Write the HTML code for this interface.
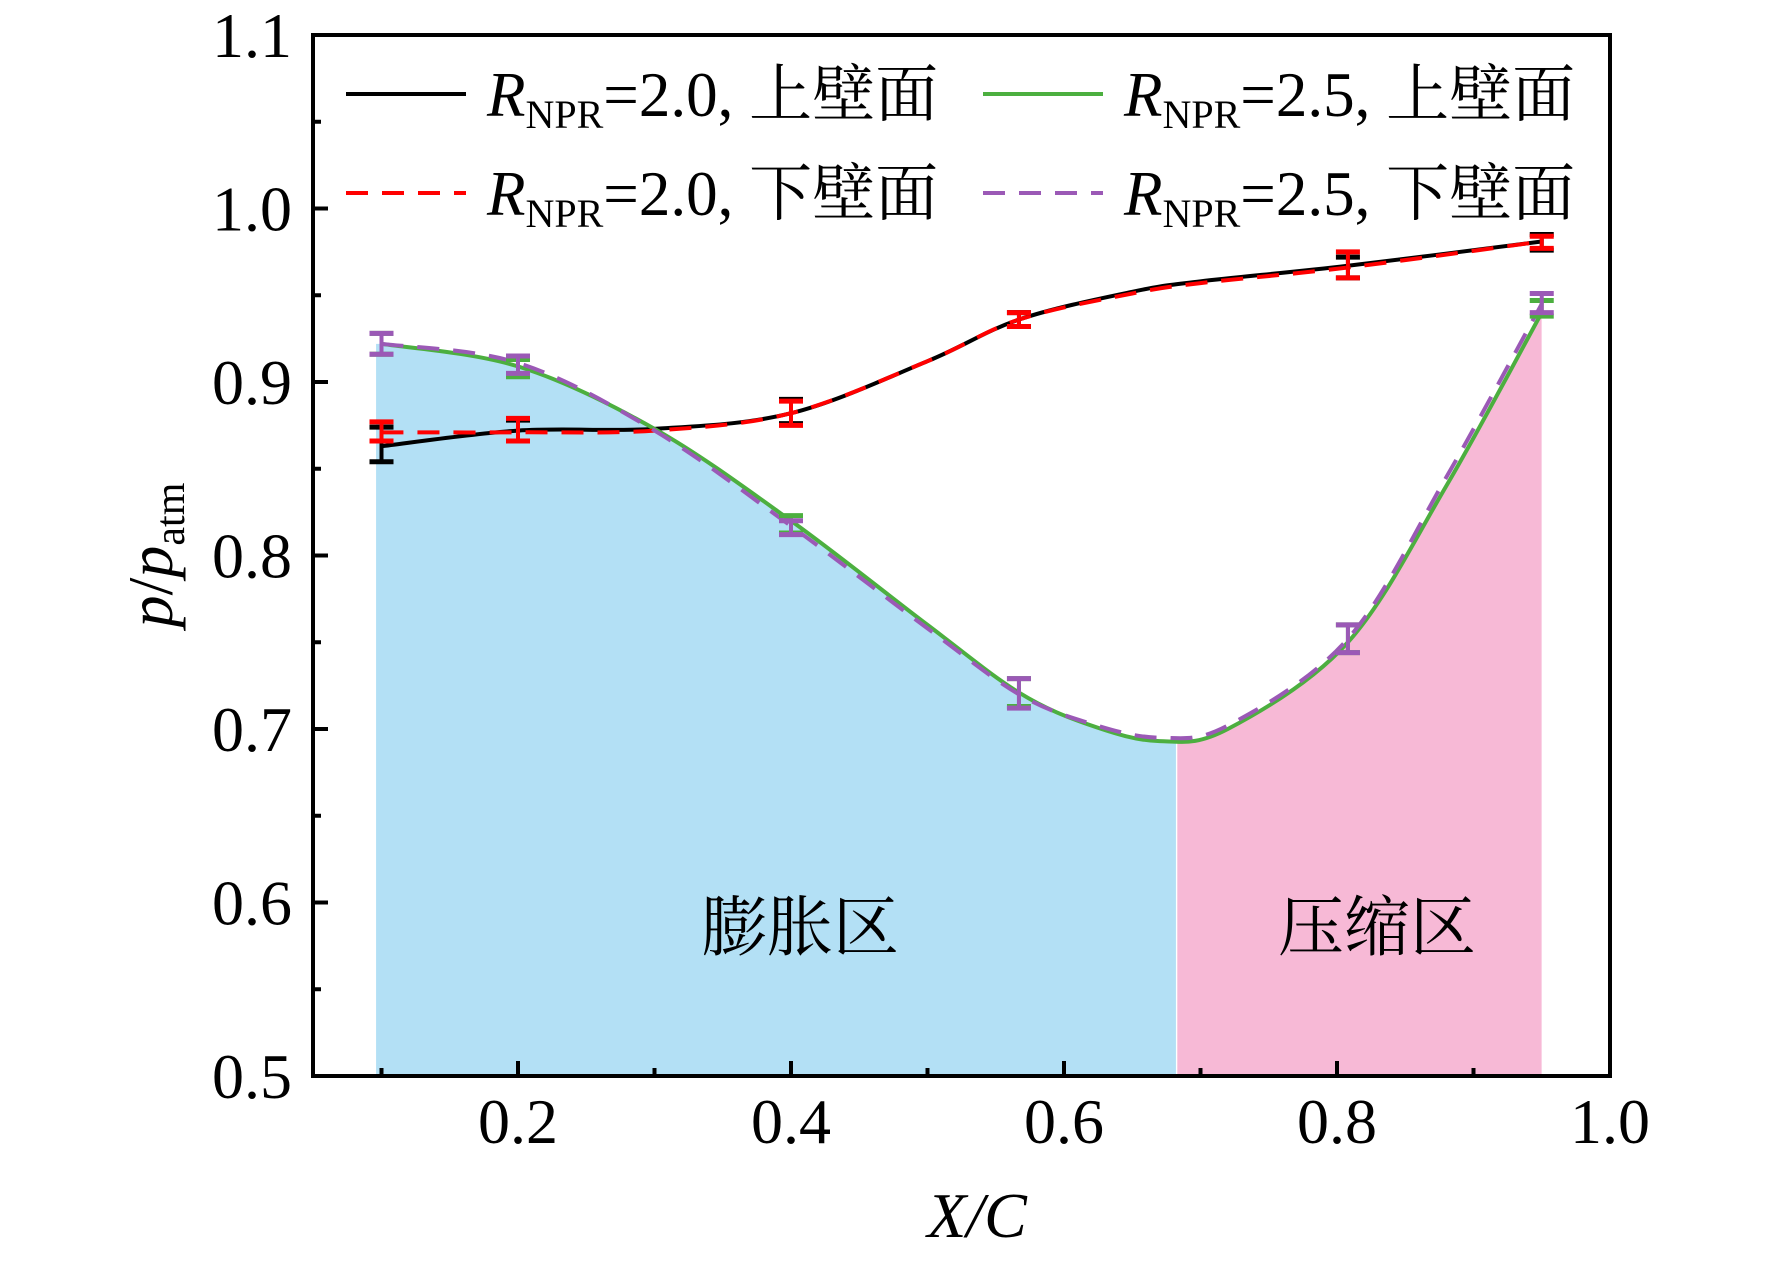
<!DOCTYPE html>
<html><head><meta charset="utf-8"><style>
html,body{margin:0;padding:0;background:#fff;}
svg{display:block;}
text{font-family:"Liberation Serif","Noto Serif CJK SC",serif;fill:#000;}
</style></head><body>
<svg id="s" width="1772" height="1269" viewBox="0 0 1772 1269" xmlns="http://www.w3.org/2000/svg">
<g id="fills"></g>
<g id="curves"></g>
<g id="axes"></g>
<text x="800" y="950" font-size="66" text-anchor="middle" font-family="Noto Serif CJK SC, serif">膨胀区</text>
<text x="1377" y="950" font-size="66" text-anchor="middle" font-family="Noto Serif CJK SC, serif">压缩区</text>
<!-- legend -->
<line x1="346" y1="94" x2="466" y2="94" stroke="#000" stroke-width="4"/>
<line x1="346" y1="193" x2="466" y2="193" stroke="#f00" stroke-width="4" stroke-dasharray="22,14"/>
<line x1="983" y1="94" x2="1103" y2="94" stroke="#4caf3f" stroke-width="4"/>
<line x1="983" y1="193" x2="1103" y2="193" stroke="#9b59b6" stroke-width="4" stroke-dasharray="22,14"/>
<g font-size="63">
<text x="487" y="116"><tspan font-style="italic">R</tspan><tspan font-size="40" dy="12">NPR</tspan><tspan dy="-12">=2.0, </tspan><tspan font-family="Noto Serif CJK SC, serif">上壁面</tspan></text>
<text x="487" y="215"><tspan font-style="italic">R</tspan><tspan font-size="40" dy="12">NPR</tspan><tspan dy="-12">=2.0, </tspan><tspan font-family="Noto Serif CJK SC, serif">下壁面</tspan></text>
<text x="1124" y="116"><tspan font-style="italic">R</tspan><tspan font-size="40" dy="12">NPR</tspan><tspan dy="-12">=2.5, </tspan><tspan font-family="Noto Serif CJK SC, serif">上壁面</tspan></text>
<text x="1124" y="215"><tspan font-style="italic">R</tspan><tspan font-size="40" dy="12">NPR</tspan><tspan dy="-12">=2.5, </tspan><tspan font-family="Noto Serif CJK SC, serif">下壁面</tspan></text>
</g>
<text x="977" y="1237" font-size="64" text-anchor="middle" font-style="italic">X/C</text>
<text transform="translate(172,555) rotate(-90)" font-size="64" text-anchor="middle"><tspan font-style="italic">p</tspan>/<tspan font-style="italic">p</tspan><tspan font-size="42" dy="12">atm</tspan></text>
</svg>
<script>
var X=function(x){return 245+1365*x;},Y=function(p){return 35+(1.1-p)*1735;};
function path(pts){pts=pts.map(function(a){return [X(a[0]),Y(a[1])];});
var d="M"+pts[0][0]+","+pts[0][1];
for(var i=0;i<pts.length-1;i++){var p0=pts[i-1]||pts[i],p1=pts[i],p2=pts[i+1],p3=pts[i+2]||p2;
d+=" C"+(p1[0]+(p2[0]-p0[0])/6)+","+(p1[1]+(p2[1]-p0[1])/6)+" "+(p2[0]-(p3[0]-p1[0])/6)+","+(p2[1]-(p3[1]-p1[1])/6)+" "+p2[0]+","+p2[1];}
return d;}
var black=[[0.1,0.863],[0.2,0.872],[0.3,0.873],[0.4,0.882],[0.5,0.912],[0.567,0.936],[0.65,0.952],[0.7,0.958],[0.808,0.967],[0.95,0.981]];
var red=[[0.1,0.871],[0.2,0.871],[0.3,0.872],[0.4,0.882],[0.5,0.912],[0.567,0.936],[0.65,0.951],[0.7,0.957],[0.808,0.966],[0.95,0.981]];
var green=[[0.1,0.922],[0.2,0.909],[0.3,0.873],[0.4,0.82],[0.5,0.76],[0.567,0.721],[0.62,0.702],[0.67,0.693],[0.72,0.7],[0.808,0.75],[0.88,0.84],[0.95,0.94]];
var purple=[[0.1,0.922],[0.2,0.911],[0.3,0.872],[0.4,0.817],[0.5,0.758],[0.567,0.72],[0.62,0.703],[0.67,0.695],[0.72,0.702],[0.808,0.752],[0.88,0.845],[0.95,0.945]];
var ns="http://www.w3.org/2000/svg";
function el(par,tag,at){var e=document.createElementNS(ns,tag);for(var k in at)e.setAttribute(k,at[k]);document.getElementById(par).appendChild(e);return e;}
var gd=path(green);
var c1=el("fills","clipPath",{id:"c1"});var r=document.createElementNS(ns,"rect");r.setAttribute("x",X(0.096));r.setAttribute("y",0);r.setAttribute("width",X(0.682)-X(0.096));r.setAttribute("height",1269);c1.appendChild(r);
var c2=el("fills","clipPath",{id:"c2"});r=document.createElementNS(ns,"rect");r.setAttribute("x",X(0.683));r.setAttribute("y",0);r.setAttribute("width",X(0.95)-X(0.683));r.setAttribute("height",1269);c2.appendChild(r);
el("fills","path",{d:gd+" L"+X(0.95)+","+Y(0.5)+" L"+X(0.096)+","+Y(0.5)+" L"+X(0.096)+","+Y(0.922)+" Z",fill:"#b3e0f5","clip-path":"url(#c1)"});
el("fills","path",{d:gd+" L"+X(0.95)+","+Y(0.501)+" L"+X(0.1)+","+Y(0.501)+" Z",fill:"#f7b9d6","clip-path":"url(#c2)"});
el("curves","path",{d:path(black),fill:"none",stroke:"#000","stroke-width":4});
el("curves","path",{d:gd,fill:"none",stroke:"#4caf3f","stroke-width":4});
el("curves","path",{d:path(red),fill:"none",stroke:"#f00","stroke-width":4,"stroke-dasharray":"22,14"});
el("curves","path",{d:path(purple),fill:"none",stroke:"#9b59b6","stroke-width":4,"stroke-dasharray":"22,14"});
function eb(x,lo,hi,c){var xx=X(x);el("curves","line",{x1:xx,x2:xx,y1:Y(lo),y2:Y(hi),stroke:c,"stroke-width":4});
[lo,hi].forEach(function(v){el("curves","line",{x1:xx-12,x2:xx+12,y1:Y(v),y2:Y(v),stroke:c,"stroke-width":5});});}
var xs=[0.1,0.2,0.4,0.567,0.808,0.95];
[[0.854,0.874],[0.866,0.878],[0.876,0.89],[0.932,0.94],[0.96,0.972],[0.976,0.985]].forEach(function(a,i){eb(xs[i],a[0],a[1],"#000");});
[[0.866,0.877],[0.866,0.879],[0.875,0.889],[0.932,0.94],[0.96,0.975],[0.977,0.984]].forEach(function(a,i){eb(xs[i],a[0],a[1],"#f00");});
[[0.916,0.928],[0.903,0.913],[0.813,0.823],[0.713,0.729],[0.744,0.76],[0.938,0.947]].forEach(function(a,i){eb(xs[i],a[0],a[1],"#4caf3f");});
[[0.916,0.928],[0.905,0.915],[0.812,0.82],[0.712,0.729],[0.744,0.76],[0.94,0.951]].forEach(function(a,i){eb(xs[i],a[0],a[1],"#9b59b6");});
el("axes","rect",{x:313,y:35,width:1297,height:1041,fill:"none",stroke:"#000","stroke-width":4});
for(var v=0.5;v<=1.1001;v+=0.05){var y=Y(v),maj=Math.abs(Math.round(v*10)-v*10)<0.01;
el("axes","line",{x1:313,x2:313+(maj?15:8),y1:y,y2:y,stroke:"#000","stroke-width":4});
if(maj){var t=el("axes","text",{x:292,y:y+22,"font-size":64,"text-anchor":"end"});t.textContent=v.toFixed(1);}}
for(var k=1;k<=10;k++){var x=X(k/10),maj=k%2==0;
el("axes","line",{x1:x,x2:x,y1:1076,y2:1076-(maj?15:8),stroke:"#000","stroke-width":4});
if(maj){var t=el("axes","text",{x:x,y:1143,"font-size":64,"text-anchor":"middle"});t.textContent=(k/10).toFixed(1);}}
</script>
</body></html>
